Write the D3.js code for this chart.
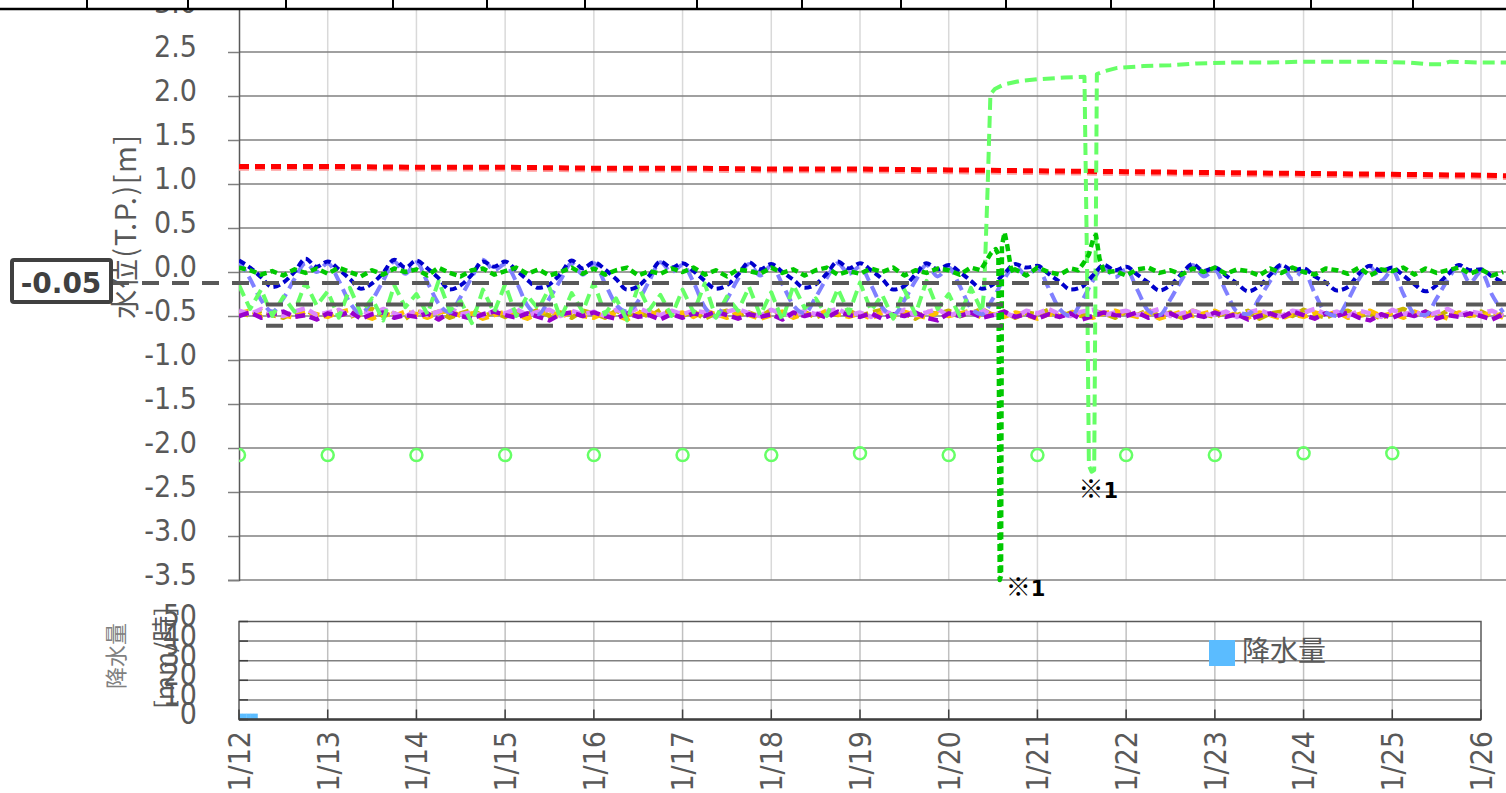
<!DOCTYPE html>
<html lang="ja">
<head>
<meta charset="utf-8">
<title>水位・降水量</title>
<script src="https://d3js.org/d3.v7.min.js"></script>
<style>
  body { margin: 0; background: #fff; overflow: hidden; }
  svg text { font-family: "DejaVu Sans Condensed", "DejaVu Sans", "Noto Sans CJK JP", sans-serif; fill: #595959; }
  .jp { font-family: "Noto Sans CJK JP", sans-serif; }
</style>
</head>
<body>
<script>
// day labels on the bottom axis (day 0 = 1/12 00:00)
var dayLabels = ["1/12","1/13","1/14","1/15","1/16","1/17","1/18","1/19","1/20","1/21","1/22","1/23","1/24","1/25","1/26"];
var levelTicks = [-3.5,-3.0,-2.5,-2.0,-1.5,-1.0,-0.5,0.0,0.5,1.0,1.5,2.0,2.5,3.0];
var rainTicks = [0,10,20,30,40,50];
// ticks of the chart cut off above
var stripTicks = [87,188,286,393,487,585,697,802,901,1006,1111,1214,1311,1413];

// reference levels (dashed grey)
var refLevels = [-0.125, -0.37, -0.61];
var refLabel = "-0.05";

// red / pink : one value per day
var redDaily  = [1.20,1.20,1.19,1.19,1.18,1.18,1.17,1.17,1.16,1.15,1.14,1.13,1.12,1.11,1.10,1.08];
var pinkDaily = [1.18,1.18,1.17,1.17,1.16,1.16,1.15,1.15,1.14,1.13,1.12,1.11,1.10,1.09,1.08,1.06];

// 3 hourly series
var blue = [
  0.13,0.05,-0.06,-0.17,-0.12,0.00,0.15,0.06,
  0.12,0.03,-0.08,-0.19,-0.13,-0.01,0.14,0.05,
  0.13,0.04,-0.07,-0.20,-0.15,-0.03,0.12,0.06,
  0.12,0.02,-0.09,-0.18,-0.14,-0.02,0.13,0.04,
  0.11,0.03,-0.08,-0.20,-0.16,-0.04,0.12,0.05,
  0.10,0.01,-0.10,-0.19,-0.15,-0.03,0.11,0.03,
  0.09,0.00,-0.09,-0.18,-0.14,-0.02,0.12,0.04,
  0.10,0.02,-0.08,-0.20,-0.16,-0.03,0.10,0.03,
  0.08,0.00,-0.10,-0.19,-0.14,-0.02,0.09,0.05,
  0.07,-0.02,-0.11,-0.20,-0.17,-0.04,0.08,0.02,
  0.06,-0.03,-0.12,-0.21,-0.15,-0.02,0.09,0.01,
  0.05,-0.04,-0.13,-0.22,-0.16,-0.03,0.08,0.02,
  0.04,-0.05,-0.12,-0.21,-0.17,-0.02,0.07,0.01,
  0.05,-0.04,-0.14,-0.22,-0.15,-0.03,0.08,0.02,
  0.03,-0.05,-0.12];
var periwinkle = [
  0.12,-0.08,-0.32,-0.45,-0.30,-0.08,0.10,0.00,
  0.10,-0.10,-0.35,-0.47,-0.32,-0.10,0.12,-0.02,
  0.11,-0.12,-0.36,-0.46,-0.28,-0.06,0.14,0.02,
  0.09,-0.11,-0.38,-0.48,-0.30,-0.09,0.10,-0.03,
  0.10,-0.13,-0.37,-0.45,-0.33,-0.10,0.11,0.00,
  0.08,-0.12,-0.40,-0.50,-0.31,-0.08,0.09,-0.04,
  0.07,-0.14,-0.38,-0.47,-0.29,-0.07,0.10,-0.02,
  0.06,-0.15,-0.40,-0.49,-0.32,-0.10,0.08,-0.05,
  0.05,-0.16,-0.41,-0.48,-0.30,-0.08,0.07,-0.04,
  0.04,-0.18,-0.42,-0.50,-0.33,-0.10,0.06,-0.06,
  0.03,-0.20,-0.44,-0.49,-0.31,-0.09,0.08,-0.05,
  0.02,-0.22,-0.45,-0.48,-0.30,-0.10,0.07,-0.08,
  0.01,-0.24,-0.46,-0.50,-0.32,-0.08,0.06,-0.10,
  0.02,-0.25,-0.47,-0.49,-0.30,-0.09,0.07,-0.12,
  0.00,-0.26,-0.46];
var green = [
  0.05,0.02,-0.03,0.01,-0.04,0.03,-0.01,0.04,
  -0.02,0.05,0.00,-0.05,0.02,-0.03,0.04,0.00,
  0.03,-0.04,0.05,-0.01,-0.05,0.02,0.04,-0.03,
  0.01,0.05,-0.02,0.03,-0.04,0.00,0.05,-0.02,
  0.04,-0.03,0.02,0.05,-0.04,0.01,-0.02,0.04,
  0.00,0.05,-0.03,0.02,-0.05,0.03,0.01,-0.02,
  0.05,-0.01,0.03,-0.04,0.02,0.05,-0.03,0.01,
  -0.02,0.04,0.00,0.05,-0.04,0.02,-0.01,0.04,
  0.02,-0.03,0.05,0.00,0.04,-0.02,0.03,-0.04,
  0.05,0.00,-0.03,0.04,0.02,-0.02,0.05,0.01,
  -0.04,0.03,0.05,-0.01,0.02,-0.03,0.04,0.00,
  0.05,-0.02,0.03,0.01,-0.04,0.04,-0.01,0.05,
  0.00,-0.03,0.04,0.02,-0.02,0.05,-0.04,0.03,
  0.01,0.05,-0.03,0.04,-0.01,0.02,0.05,-0.02,
  0.03,-0.04,0.00];
// [day, value] spikes of the green gauge
var greenSpike1 = [[8.36,0.02],[8.42,0.12],[8.48,0.22],[8.53,0.26],[8.56,0.20],[8.575,-3.5],[8.59,-3.45],[8.60,0.30],[8.63,0.45],[8.66,0.30],[8.70,0.05],[8.74,-0.02]];
var greenSpike2 = [[9.46,0.02],[9.52,0.10],[9.58,0.20],[9.63,0.38],[9.66,0.42],[9.70,0.15],[9.75,0.00]];

var lightGreen = [
  -0.15,-0.42,-0.20,-0.50,-0.28,-0.45,-0.12,-0.38,
  -0.22,-0.52,-0.18,-0.47,-0.30,-0.55,-0.15,-0.40,
  -0.25,-0.48,-0.10,-0.44,-0.33,-0.58,-0.20,-0.46,
  -0.14,-0.50,-0.27,-0.42,-0.18,-0.53,-0.24,-0.45,
  -0.12,-0.48,-0.30,-0.55,-0.16,-0.43,-0.26,-0.50,
  -0.20,-0.46,-0.13,-0.52,-0.28,-0.44,-0.17,-0.49,
  -0.23,-0.55,-0.15,-0.41,-0.30,-0.50,-0.19,-0.47,
  -0.12,-0.44,-0.26,-0.53,-0.20,-0.48,-0.10,-0.42,
  -0.25,-0.50,-0.18,-0.45];
var lightGreenHigh = [[8.40,-0.20],[8.44,1.00],[8.47,2.02],[8.52,2.08],[8.62,2.13],[8.80,2.17],[9.00,2.19],[9.30,2.21],[9.53,2.22],
  [9.56,0.00],[9.58,-2.20],[9.61,-2.27],[9.64,-2.25],[9.655,0.00],[9.67,2.25],[9.75,2.28],[9.90,2.32],[10.2,2.34],[10.5,2.35],
  [10.8,2.37],[11.2,2.38],[11.6,2.38],[12.0,2.39],[12.4,2.39],[12.8,2.39],[13.2,2.38],[13.4,2.36],[13.55,2.36],[13.65,2.39],[14.0,2.38],[14.4,2.38]];
var lightGreenMarks = [-2.08,-2.08,-2.08,-2.08,-2.08,-2.08,-2.08,-2.06,-2.08,-2.08,-2.08,-2.08,-2.06,-2.06];

var olive = [
  -0.45,-0.50,-0.44,-0.49,-0.52,-0.46,-0.43,-0.50,
  -0.48,-0.44,-0.51,-0.46,-0.42,-0.50,-0.47,-0.53,
  -0.44,-0.49,-0.45,-0.52,-0.47,-0.43,-0.50,-0.46,
  -0.51,-0.45,-0.48,-0.43,-0.50,-0.46,-0.52,-0.44,
  -0.47,-0.52,-0.44,-0.49,-0.45,-0.51,-0.43,-0.48,
  -0.50,-0.45,-0.53,-0.47,-0.44,-0.49,-0.46,-0.51,
  -0.43,-0.48,-0.50,-0.45,-0.52,-0.46,-0.49,-0.44,
  -0.50,-0.46,-0.43,-0.51,-0.47,-0.53,-0.45,-0.48,
  -0.44,-0.50,-0.47,-0.42,-0.49,-0.45,-0.52,-0.46,
  -0.48,-0.43,-0.51,-0.46,-0.50,-0.44,-0.47,-0.52,
  -0.45,-0.49,-0.43,-0.50,-0.46,-0.52,-0.44,-0.48,
  -0.51,-0.46,-0.49,-0.44,-0.53,-0.47,-0.45,-0.50,
  -0.43,-0.48,-0.52,-0.46,-0.44,-0.50,-0.47,-0.53,
  -0.46,-0.42,-0.49,-0.45,-0.51,-0.44,-0.48,-0.50,
  -0.45,-0.51,-0.47];
var orange = [
  -0.47,-0.44,-0.50,-0.46,-0.49,-0.52,-0.45,-0.48,
  -0.51,-0.46,-0.43,-0.49,-0.53,-0.47,-0.50,-0.45,
  -0.48,-0.52,-0.46,-0.44,-0.50,-0.47,-0.53,-0.49,
  -0.45,-0.49,-0.53,-0.47,-0.44,-0.51,-0.46,-0.50,
  -0.52,-0.46,-0.49,-0.54,-0.47,-0.45,-0.50,-0.48,
  -0.46,-0.51,-0.44,-0.48,-0.52,-0.46,-0.49,-0.53,
  -0.49,-0.45,-0.52,-0.47,-0.50,-0.44,-0.48,-0.51,
  -0.47,-0.53,-0.46,-0.50,-0.45,-0.49,-0.52,-0.46,
  -0.50,-0.47,-0.44,-0.52,-0.48,-0.51,-0.46,-0.49,
  -0.53,-0.48,-0.50,-0.45,-0.49,-0.52,-0.47,-0.44,
  -0.48,-0.51,-0.46,-0.53,-0.49,-0.45,-0.50,-0.47,
  -0.44,-0.50,-0.47,-0.52,-0.46,-0.49,-0.53,-0.48,
  -0.51,-0.46,-0.49,-0.45,-0.52,-0.48,-0.44,-0.50,
  -0.47,-0.52,-0.45,-0.50,-0.48,-0.53,-0.46,-0.49,
  -0.50,-0.46,-0.52];
var purple = [
  -0.50,-0.46,-0.52,-0.48,-0.45,-0.51,-0.49,-0.54,
  -0.47,-0.50,-0.45,-0.53,-0.48,-0.46,-0.52,-0.49,
  -0.51,-0.47,-0.54,-0.46,-0.50,-0.53,-0.48,-0.45,
  -0.49,-0.52,-0.47,-0.51,-0.55,-0.48,-0.46,-0.50,
  -0.46,-0.50,-0.53,-0.47,-0.51,-0.49,-0.54,-0.48,
  -0.52,-0.47,-0.50,-0.45,-0.49,-0.53,-0.48,-0.51,
  -0.48,-0.54,-0.46,-0.50,-0.47,-0.52,-0.45,-0.49,
  -0.51,-0.47,-0.53,-0.48,-0.50,-0.46,-0.52,-0.55,
  -0.47,-0.50,-0.46,-0.52,-0.49,-0.45,-0.51,-0.48,
  -0.53,-0.48,-0.51,-0.47,-0.54,-0.50,-0.46,-0.49,
  -0.50,-0.46,-0.52,-0.49,-0.47,-0.53,-0.48,-0.51,
  -0.46,-0.51,-0.48,-0.54,-0.50,-0.47,-0.52,-0.45,
  -0.49,-0.53,-0.47,-0.50,-0.46,-0.52,-0.55,-0.48,
  -0.52,-0.47,-0.50,-0.45,-0.53,-0.49,-0.51,-0.47,
  -0.50,-0.54,-0.48];
var violet = [
  -0.44,-0.48,-0.42,-0.47,-0.50,-0.45,-0.41,-0.49,
  -0.46,-0.43,-0.50,-0.44,-0.48,-0.42,-0.47,-0.51,
  -0.43,-0.49,-0.45,-0.41,-0.48,-0.46,-0.50,-0.44,
  -0.47,-0.42,-0.49,-0.45,-0.43,-0.50,-0.44,-0.48,
  -0.45,-0.50,-0.43,-0.47,-0.41,-0.46,-0.49,-0.44,
  -0.48,-0.44,-0.46,-0.51,-0.45,-0.42,-0.47,-0.50,
  -0.43,-0.47,-0.50,-0.44,-0.48,-0.45,-0.42,-0.49,
  -0.46,-0.51,-0.44,-0.48,-0.43,-0.49,-0.46,-0.42,
  -0.50,-0.45,-0.47,-0.43,-0.49,-0.46,-0.51,-0.44,
  -0.47,-0.42,-0.48,-0.50,-0.45,-0.43,-0.49,-0.46,
  -0.44,-0.49,-0.46,-0.42,-0.50,-0.47,-0.44,-0.48,
  -0.49,-0.45,-0.51,-0.46,-0.43,-0.48,-0.50,-0.44,
  -0.46,-0.42,-0.48,-0.45,-0.50,-0.44,-0.47,-0.51,
  -0.43,-0.48,-0.45,-0.50,-0.46,-0.42,-0.49,-0.45,
  -0.47,-0.44,-0.50];

// rainfall [mm/h], hourly from 1/12 00:00
var rain = [3,3,3,3,3];

var width = 1506, height = 793;

// helpers: values at a fixed step (hours) -> points
function stepPts(vals, stepH) {
  return vals.map(function(v, i) { return {t: i * stepH / 24, v: v}; });
}
function withSpikes(pts, spikes) {
  spikes.forEach(function(s) {
    var t0 = s[0][0], t1 = s[s.length - 1][0];
    pts = pts.filter(function(p) { return p.t < t0 || p.t > t1; });
    pts = pts.concat(s.map(function(d) { return {t: d[0], v: d[1]}; }));
  });
  return pts.sort(function(a, b) { return a.t - b.t; });
}

var x = d3.scaleLinear().domain([0, 14]).range([239, 1481]);
var y = d3.scaleLinear().domain([-3.5, 3.0]).range([580, 8]);
var yr = d3.scaleLinear().domain([0, 50]).range([719.5, 621.5]);

var svg = d3.select("body").append("svg")
  .attr("width", width).attr("height", height);

// ---------- main chart ----------
var plotRight = 1520;
var days = d3.range(0, dayLabels.length);

// vertical grid
svg.append("g").selectAll("line").data(days.slice(1)).enter().append("line")
  .attr("x1", function(d) { return x(d); }).attr("x2", function(d) { return x(d); })
  .attr("y1", y(3.0)).attr("y2", y(-3.5))
  .attr("stroke", "#d9d9d9").attr("stroke-width", 1.5);

// horizontal grid
svg.append("g").selectAll("line").data(levelTicks).enter().append("line")
  .attr("x1", x(0)).attr("x2", plotRight)
  .attr("y1", function(d) { return y(d); }).attr("y2", function(d) { return y(d); })
  .attr("stroke", "#808080").attr("stroke-width", 1.5);

// y axis
var yAxis = d3.axisLeft(y).tickValues(levelTicks)
  .tickFormat(function(d) { return d.toFixed(1); })
  .tickSize(11).tickPadding(31);
var gy = svg.append("g").attr("transform", "translate(" + x(0) + ",0)").call(yAxis);
gy.attr("font-family", null);
gy.select(".domain").attr("stroke", "#595959").attr("stroke-width", 1.5);
gy.selectAll(".tick line").attr("stroke", "#808080").attr("stroke-width", 1.5);
gy.selectAll(".tick text").attr("font-size", 30).attr("dy", "0.16em").attr("fill", "#595959");

// series
svg.append("clipPath").attr("id", "plot").append("rect")
  .attr("x", x(0)).attr("y", 0).attr("width", plotRight - x(0)).attr("height", 588);

var series = [
  {pts: stepPts(pinkDaily, 24), color: "#ff9a9a", dash: "10,6", w: 5},
  {pts: stepPts(redDaily, 24), color: "#ff0000", dash: "10,6", w: 5},
  {pts: stepPts(olive, 3), color: "#c8b400", dash: "10,5", w: 4.5},
  {pts: stepPts(orange, 3), color: "#ffc000", dash: "10,5", w: 4.5},
  {pts: stepPts(violet, 3), color: "#dd88ff", dash: "10,5", w: 4.5},
  {pts: stepPts(purple, 3), color: "#9900cc", dash: "10,5", w: 4.5},
  {pts: stepPts(periwinkle, 3), color: "#8080ff", dash: "12,6", w: 4, smooth: true},
  {pts: withSpikes(stepPts(lightGreen, 3), [lightGreenHigh]), color: "#66ff66", dash: "12,6", w: 4},
  {pts: stepPts(blue, 3), color: "#0000cc", dash: "7,4", w: 4, smooth: true},
  {pts: withSpikes(stepPts(green, 3), [greenSpike1, greenSpike2]), color: "#00c800", dash: "7,4", w: 4.5}
];

var gSeries = svg.append("g").attr("clip-path", "url(#plot)");
series.forEach(function(s) {
  var line = d3.line()
    .x(function(d) { return x(d.t); })
    .y(function(d) { return y(d.v); })
    .curve(s.smooth ? d3.curveMonotoneX : d3.curveLinear);
  gSeries.append("path").datum(s.pts)
    .attr("d", line)
    .attr("fill", "none")
    .attr("stroke", s.color)
    .attr("stroke-width", s.w)
    .attr("stroke-dasharray", s.dash)
    .attr("stroke-linejoin", "round");
});

// circle marks
gSeries.append("g").selectAll("circle").data(lightGreenMarks).enter().append("circle")
  .attr("cx", function(d, i) { return x(i); })
  .attr("cy", function(d) { return y(d); })
  .attr("r", 6)
  .attr("fill", "none").attr("stroke", "#66ff66").attr("stroke-width", 2.5);

// reference dashed levels
svg.append("g").selectAll("line").data(refLevels).enter().append("line")
  .attr("x1", function(d, i) { return i === 0 ? 112 : 266; })
  .attr("x2", width)
  .attr("y1", function(d) { return y(d); }).attr("y2", function(d) { return y(d); })
  .attr("stroke", "#595959").attr("stroke-width", 4).attr("stroke-dasharray", "17,13");

// ※1 notes at the two drops
var greenMin = greenSpike1.reduce(function(a, b) { return b[1] < a[1] ? b : a; });
var lgMin = lightGreenHigh.reduce(function(a, b) { return b[1] < a[1] ? b : a; });
[[greenMin, 6, 16], [lgMin, -13, 26]].forEach(function(n) {
  var t = svg.append("text")
    .attr("x", x(n[0][0]) + n[1]).attr("y", y(n[0][1]) + n[2])
    .attr("font-weight", "bold").style("fill", "#000");
  t.append("tspan").attr("class", "jp").attr("font-size", 25).text("※");
  t.append("tspan").style("font-family", "'DejaVu Sans'").attr("font-size", 21).text("1");
});

// y title
svg.append("text").attr("class", "jp")
  .attr("transform", "translate(123,226) rotate(-90)")
  .attr("text-anchor", "middle").attr("dominant-baseline", "central")
  .attr("font-size", 29).attr("letter-spacing", 1.5).text("水位(T.P.)[m]");

// label box
svg.append("rect").attr("x", 12).attr("y", 260).attr("width", 99).attr("height", 42)
  .attr("fill", "#fff").attr("stroke", "#404040").attr("stroke-width", 4).attr("rx", 2);
svg.append("text").attr("x", 61).attr("y", 293).attr("text-anchor", "middle")
  .style("font-family", "'DejaVu Sans'").attr("font-weight", "bold").attr("font-size", 28)
  .style("fill", "#404040").text(refLabel);

// strip of the chart above (cut off)
svg.append("rect").attr("x", 0).attr("y", 0).attr("width", width).attr("height", 9).attr("fill", "#fff");
svg.append("line").attr("x1", 0).attr("x2", width).attr("y1", 9).attr("y2", 9)
  .attr("stroke", "#000").attr("stroke-width", 2.5);
svg.append("g").selectAll("line").data(stripTicks).enter().append("line")
  .attr("x1", function(d) { return d; }).attr("x2", function(d) { return d; })
  .attr("y1", 0).attr("y2", 9).attr("stroke", "#000").attr("stroke-width", 2);

// ---------- rainfall chart ----------
var gr = svg.append("g");
gr.selectAll("line.vg").data(days.slice(1, -1)).enter().append("line")
  .attr("x1", function(d) { return x(d); }).attr("x2", function(d) { return x(d); })
  .attr("y1", yr(50)).attr("y2", yr(0))
  .attr("stroke", "#c0c0c0").attr("stroke-width", 1.5);
gr.selectAll("line.hg").data(rainTicks.slice(1, -1)).enter().append("line")
  .attr("x1", x(0)).attr("x2", x(14))
  .attr("y1", function(d) { return yr(d); }).attr("y2", function(d) { return yr(d); })
  .attr("stroke", "#808080").attr("stroke-width", 1.5);

// bars
var hourW = x(1 / 24) - x(0);
gr.selectAll("rect.bar").data(rain).enter().append("rect")
  .attr("x", function(d, i) { return x(i / 24); })
  .attr("y", function(d) { return yr(d); })
  .attr("width", hourW + 0.3)
  .attr("height", function(d) { return yr(0) - yr(d); })
  .attr("fill", "#5bbcff");

// frame
gr.append("rect").attr("x", x(0)).attr("y", yr(50)).attr("width", x(14) - x(0)).attr("height", yr(0) - yr(50))
  .attr("fill", "none").attr("stroke", "#595959").attr("stroke-width", 1.5);
gr.append("line").attr("x1", x(0)).attr("x2", x(14)).attr("y1", yr(0)).attr("y2", yr(0))
  .attr("stroke", "#404040").attr("stroke-width", 2.5);
// inner ticks
gr.selectAll("line.xt").data(days).enter().append("line")
  .attr("x1", function(d) { return x(d); }).attr("x2", function(d) { return x(d); })
  .attr("y1", yr(0) - 10).attr("y2", yr(0)).attr("stroke", "#404040").attr("stroke-width", 1.5);
gr.selectAll("line.yt").data(rainTicks).enter().append("line")
  .attr("x1", x(0)).attr("x2", x(0) + 9)
  .attr("y1", function(d) { return yr(d); }).attr("y2", function(d) { return yr(d); })
  .attr("stroke", "#404040").attr("stroke-width", 1.5);

// rain y labels
gr.selectAll("text.yl").data(rainTicks).enter().append("text")
  .attr("x", 197).attr("y", function(d) { return yr(d); }).attr("dy", "0.16em")
  .attr("text-anchor", "end").attr("font-size", 30).text(function(d) { return d; });

gr.append("text").attr("class", "jp")
  .attr("transform", "translate(114,656) rotate(-90)")
  .attr("text-anchor", "middle").attr("dominant-baseline", "central")
  .attr("font-size", 22).style("fill", "#808080").text("降水量");
gr.append("text").attr("class", "jp")
  .attr("transform", "translate(162,658) rotate(-90)")
  .attr("text-anchor", "middle").attr("dominant-baseline", "central")
  .attr("font-size", 26).text("[mm/時]");

// legend
gr.append("rect").attr("x", 1209).attr("y", 640).attr("width", 26).attr("height", 26).attr("fill", "#5bbcff");
gr.append("text").attr("class", "jp").attr("x", 1242).attr("y", 649)
  .attr("dominant-baseline", "central").attr("font-size", 28).text("降水量");

// x labels
svg.append("g").selectAll("text").data(dayLabels).enter().append("text")
  .attr("transform", function(d, i) { return "translate(" + x(i) + ",731) rotate(-90)"; })
  .attr("text-anchor", "end").attr("dy", "0.36em")
  .attr("font-size", 30).text(function(d) { return d; });
</script>
</body>
</html>
